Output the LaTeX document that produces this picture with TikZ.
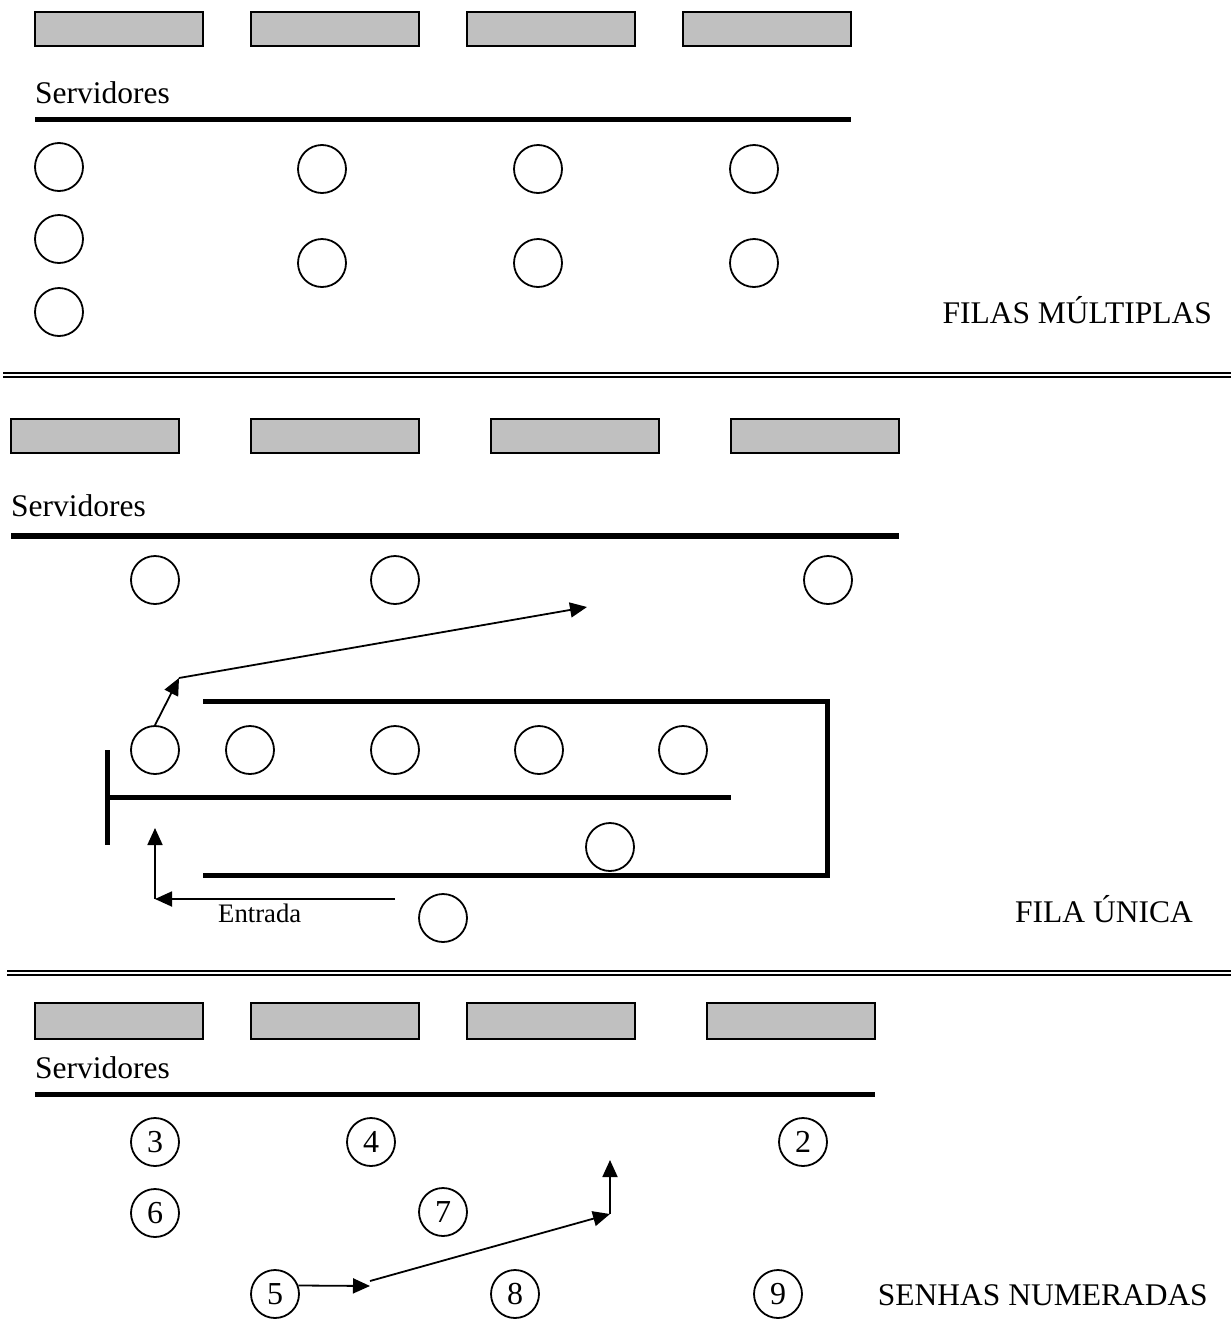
\documentclass[tikz,border=0pt]{standalone}
\usepackage{fontspec}
\setmainfont{Liberation Serif}
\usetikzlibrary{arrows.meta}
\definecolor{deskgray}{HTML}{C0C0C0}
\begin{document}
\begin{tikzpicture}[x=1pt,y=-1pt,
  cust/.style={circle,draw,line width=1.8pt,minimum size=48pt,inner sep=0pt,font=\fontsize{32}{36}\selectfont},
  desk/.style={draw,line width=1.8pt,fill=deskgray,minimum width=168pt,minimum height=34pt,inner sep=0pt},
  lbl/.style={inner sep=0pt,font=\fontsize{31.5}{36}\selectfont},
  small/.style={inner sep=0pt,font=\fontsize{26.7}{30}\selectfont},
  thick line/.style={line width=5.5pt},
  wall/.style={line width=5pt},
  dbl/.style={line width=2pt},
  arr/.style={line width=1.8pt,-{Triangle[length=17pt,width=15pt]}},
  plain/.style={line width=1.8pt}
]
\useasboundingbox (0,0) rectangle (1231,1344);

% ---------- Section 1: FILAS MULTIPLAS ----------
\node[desk] (s1d1) at (119,29) {};
\node[desk] (s1d2) at (335,29) {};
\node[desk] (s1d3) at (551,29) {};
\node[desk] (s1d4) at (767,29) {};
\node[lbl,anchor=base west] (s1srv) at (35,103) {Servidores};
\draw[thick line] (35,119.5) -- (851,119.5);
\node[cust] (a1) at (59,167) {};
\node[cust] (a2) at (59,239) {};
\node[cust] (a3) at (59,312) {};
\node[cust] (b1) at (322,169) {};
\node[cust] (b2) at (322,263) {};
\node[cust] (c1) at (538,169) {};
\node[cust] (c2) at (538,263) {};
\node[cust] (d1) at (754,169) {};
\node[cust] (d2) at (754,263) {};
\node[lbl,anchor=base east] (t1) at (1212,323) {FILAS MÚLTIPLAS};

\draw[dbl] (3,372.7) -- (1231,372.7);
\draw[dbl] (3,376.7) -- (1231,376.7);

% ---------- Section 2: FILA UNICA ----------
\node[desk] (s2d1) at (95,436) {};
\node[desk] (s2d2) at (335,436) {};
\node[desk] (s2d3) at (575,436) {};
\node[desk] (s2d4) at (815,436) {};
\node[lbl,anchor=base west] (s2srv) at (11,516) {Servidores};
\draw[thick line] (11,536) -- (899,536);
\node[cust] (e1) at (155,580) {};
\node[cust] (e2) at (395,580) {};
\node[cust] (e3) at (828,580) {};

\draw[wall] (203,701.5) -- (827,701.5) -- (827,875.5) -- (203,875.5);
\draw[wall] (107,797) -- (731,797);
\draw[wall] (107,750) -- (107,845);

\node[cust] (q1) at (155,750) {};
\node[cust] (q2) at (250,750) {};
\node[cust] (q3) at (395,750) {};
\node[cust] (q4) at (539,750) {};
\node[cust] (q5) at (683,750) {};
\node[cust] (q6) at (610,847) {};
\node[cust] (q7) at (443,918) {};

\coordinate (bend1) at (179,678);
\coordinate (tipA) at (587,607);
\draw[arr] (q1.north) -- (bend1);
\draw[arr] (bend1) -- (tipA);

\coordinate (entStart) at (395,899);
\coordinate (entCorner) at (155,899);
\coordinate (entTip) at (155,828);
\draw[arr] (entStart) -- (entCorner);
\draw[arr] (entCorner) -- (entTip);
\node[small,anchor=base west] (ent) at (218,922) {Entrada};
\node[lbl,anchor=base east] (t2) at (1193,922) {FILA ÚNICA};

\draw[dbl] (7,971) -- (1231,971);
\draw[dbl] (7,975) -- (1231,975);

% ---------- Section 3: SENHAS NUMERADAS ----------
\node[desk,minimum height=36pt] (s3d1) at (119,1021) {};
\node[desk,minimum height=36pt] (s3d2) at (335,1021) {};
\node[desk,minimum height=36pt] (s3d3) at (551,1021) {};
\node[desk,minimum height=36pt] (s3d4) at (791,1021) {};
\node[lbl,anchor=base west] (s3srv) at (35,1078) {Servidores};
\draw[thick line] (35,1094.5) -- (875,1094.5);

\node[cust] (n3) at (155,1142) {3};
\node[cust] (n4) at (371,1142) {4};
\node[cust] (n2) at (803,1142) {2};
\node[cust] (n6) at (155,1213) {6};
\node[cust] (n7) at (443,1212) {7};
\node[cust] (n5) at (275,1294) {5};
\node[cust] (n8) at (515,1294) {8};
\node[cust] (n9) at (778,1294) {9};

\coordinate (p1) at (370,1286);
\coordinate (p2) at (370,1281);
\coordinate (p3) at (610,1214);
\coordinate (p4) at (610,1160);
\draw[arr] (n5.20) -- (p1);
\draw[arr] (p2) -- (p3);
\draw[arr] (p3) -- (p4);

\node[lbl,anchor=base east] (t3) at (1208,1305) {SENHAS NUMERADAS};
\end{tikzpicture}
\end{document}
